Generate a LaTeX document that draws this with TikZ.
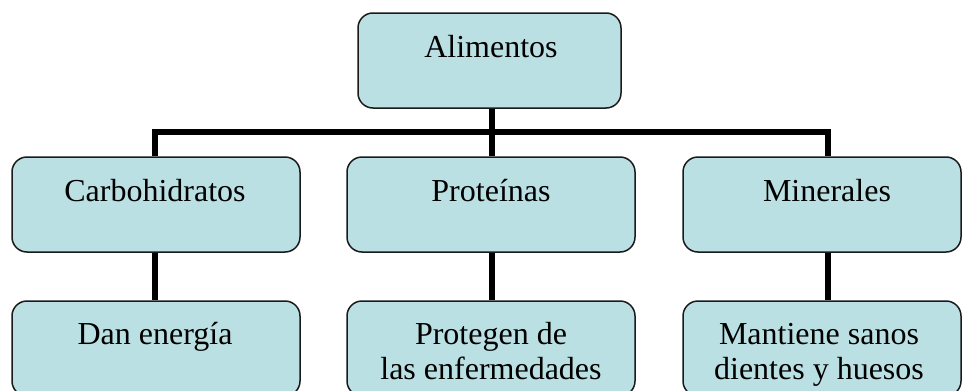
\documentclass[tikz,border=0pt]{standalone}
\usepackage{fontspec}
\setmainfont{Liberation Serif}
\definecolor{boxfill}{HTML}{BBE0E3}
\definecolor{boxline}{HTML}{1A1A1A}
\tikzset{
  cbox/.style={draw=boxline, line width=1.5pt, fill=boxfill, rounded corners=15pt,
    inner sep=0pt, minimum height=95pt},
  lbl/.style={font=\fontsize{32}{35}\selectfont, align=center, anchor=base, inner sep=0pt},
  conn/.style={line width=6pt, black, line join=miter, line cap=butt}
}
\begin{document}
\begin{tikzpicture}[x=1pt,y=-1pt]
\useasboundingbox (0,0) rectangle (962,391);
\clip (0,0) rectangle (962,391);
% connectors first (behind boxes)
\coordinate (bar) at (0,132);
% boxes
\node[cbox, minimum width=263pt] (top) at (489.5,60.5) {};
\node[cbox, minimum width=288pt] (c1) at (156,204.5) {};
\node[cbox, minimum width=288pt] (c2) at (491,204.5) {};
\node[cbox, minimum width=278pt] (c3) at (822,204.5) {};
\node[cbox, minimum width=288pt] (d1) at (156,348.5) {};
\node[cbox, minimum width=288pt] (d2) at (491,348.5) {};
\node[cbox, minimum width=278pt] (d3) at (822,348.5) {};
% connectors
\begin{scope}[on background layer/.style={}]
\draw[conn] ([xshift=2pt]top.south) -- ([xshift=2pt]top.south |- c2.north);
\draw[conn] ([xshift=-1pt]c1.north) -- ([xshift=-1pt]c1.north |- bar) -- ([xshift=6pt]c3.north |- bar) -- ([xshift=6pt]c3.north);
\draw[conn] ([xshift=-1pt]c1.south) -- ([xshift=-1pt]c1.south |- d1.north);
\draw[conn] ([xshift=1pt]c2.south) -- ([xshift=1pt]c2.south |- d2.north);
\draw[conn] ([xshift=6pt]c3.south) -- ([xshift=6pt]c3.south |- d3.north);
\end{scope}
% labels
\node[lbl] (t0) at (491,57) {Alimentos};
\node[lbl] (t1) at (155,201) {Carbohidratos};
\node[lbl] (t2) at (491,201) {Proteínas};
\node[lbl] (t3) at (827,201) {Minerales};
\node[lbl] (u1) at (155,344) {Dan energía};
\node[lbl] (u2) at (491,379) {Protegen de\\las enfermedades};
\node[lbl] (u3) at (819,379) {Mantiene sanos\\dientes y huesos};
\end{tikzpicture}
\end{document}
